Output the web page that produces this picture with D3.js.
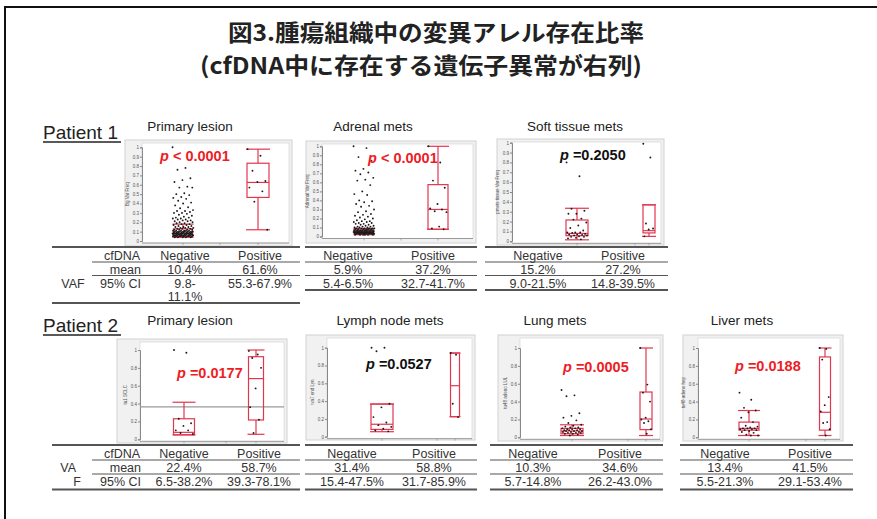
<!DOCTYPE html>
<html>
<head>
<meta charset="utf-8">
<script src="https://cdn.jsdelivr.net/npm/d3@7"></script>
<style>
  body { margin: 0; background: #fff; }
  svg { display: block; }
</style>
</head>
<body>
<svg width="877" height="519"></svg>
<script>
// ---- data ----
var titleLines = ["図3.腫瘍組織中の変異アレル存在比率", "(cfDNA中に存在する遺伝子異常が右列)"];
var patients = ["Patient 1", "Patient 2"];
var panelNames = ["Primary lesion", "Adrenal mets", "Soft tissue mets",
                  "Primary lesion", "Lymph node mets", "Lung mets", "Liver mets"];
var yLabels = ["Bg Var Freq", "Adrenal Var Freq", "pmets tissue Var Freq",
               "tu1 SCLC", "wa7 end Lyn", "tu48 adeno LUL", "tu48 adeno hep"];
var pValues = ["< 0.0001", "< 0.0001", "=0.2050", "=0.0177", "=0.0527", "=0.0005", "=0.0188"];
var significant = [true, true, false, true, false, true, true];
var groups = ["Negative", "Positive"];

// VAF values per panel, [negative, positive]
var p1PrimaryNeg = [1.0, 0.78, 0.76, 0.67, 0.65, 0.63, 0.58, 0.57, 0.57, 0.51, 0.50, 0.49, 0.47, 0.46, 0.45,
  0.43, 0.41, 0.40, 0.38, 0.36, 0.35, 0.33, 0.32, 0.32, 0.31, 0.30, 0.30, 0.29, 0.28, 0.27, 0.26, 0.25, 0.25,
  0.24, 0.24, 0.23, 0.23, 0.22, 0.22, 0.21, 0.21, 0.20, 0.20, 0.19, 0.19, 0.18, 0.18, 0.17, 0.17, 0.16, 0.16,
  0.15, 0.15, 0.15, 0.14, 0.14, 0.14, 0.13, 0.13, 0.13, 0.12, 0.12, 0.12, 0.12, 0.11, 0.11, 0.11, 0.11, 0.11,
  0.11, 0.10, 0.10, 0.10, 0.10, 0.10, 0.10, 0.10, 0.10, 0.09, 0.09, 0.09, 0.09, 0.09, 0.09, 0.09, 0.09,
  0.08, 0.08, 0.08, 0.08, 0.08, 0.08, 0.08, 0.08, 0.08, 0.08, 0.07, 0.07, 0.07, 0.07, 0.07, 0.07, 0.07, 0.07,
  0.07, 0.07, 0.06, 0.06, 0.06, 0.06, 0.06, 0.06, 0.06, 0.06, 0.06, 0.06, 0.05, 0.05, 0.05, 0.05, 0.05, 0.05,
  0.05, 0.05, 0.04, 0.04, 0.04, 0.04, 0.04];
var p1PrimaryPos = [0.98, 0.91, 0.75, 0.64, 0.63, 0.57, 0.53, 0.42, 0.12];
var p1AdrenalNeg = [1.0, 0.98, 0.88, 0.84, 0.75, 0.73, 0.71, 0.69, 0.65, 0.63, 0.62, 0.57, 0.50, 0.47, 0.46,
  0.40, 0.39, 0.38, 0.36, 0.34, 0.33, 0.30, 0.28, 0.27, 0.25, 0.24, 0.23, 0.22, 0.21, 0.20, 0.19, 0.18, 0.17,
  0.17, 0.16, 0.16, 0.15, 0.15, 0.14, 0.14, 0.13, 0.13, 0.12, 0.12, 0.11, 0.11, 0.11, 0.10, 0.10, 0.10,
  0.09, 0.09, 0.09, 0.09, 0.09, 0.09, 0.08, 0.08, 0.08, 0.08, 0.08, 0.08, 0.07, 0.07, 0.07, 0.07, 0.07, 0.07,
  0.07, 0.07, 0.06, 0.06, 0.06, 0.06, 0.06, 0.06, 0.06, 0.06, 0.06, 0.06, 0.05, 0.05, 0.05, 0.05, 0.05, 0.05,
  0.05, 0.05, 0.05, 0.05, 0.05, 0.05, 0.04, 0.04, 0.04, 0.04, 0.04, 0.04, 0.04, 0.04, 0.04, 0.04, 0.04, 0.04,
  0.03, 0.03, 0.03, 0.03, 0.03, 0.03, 0.03, 0.03, 0.03, 0.03, 0.02, 0.02, 0.02, 0.02, 0.02, 0.02];
var p1AdrenalPos = [1.0, 0.82, 0.62, 0.54, 0.36, 0.31, 0.30, 0.28, 0.27, 0.11, 0.09, 0.08];
var p1SoftNeg = [0.80, 0.66, 0.33, 0.31, 0.28, 0.28, 0.23, 0.22, 0.19, 0.16, 0.135, 0.11, 0.09, 0.09, 0.09,
  0.085, 0.075, 0.07, 0.07, 0.065, 0.06, 0.06, 0.05, 0.045, 0.045, 0.035, 0.03, 0.02];
var p1SoftPos = [0.99, 0.85, 0.18, 0.13, 0.12, 0.05];
var p2PrimaryNeg = [1.0, 0.97, 0.23, 0.18, 0.15, 0.10, 0.10, 0.07, 0.06];
var p2PrimaryPos = [0.99, 0.95, 0.91, 0.80, 0.57, 0.36, 0.22, 0.07];
var p2LymphNeg = [1.0, 1.0, 0.96, 0.37, 0.33, 0.22, 0.16, 0.13, 0.11, 0.09, 0.07, 0.06];
var p2LymphPos = [0.94, 0.92, 0.37, 0.22];
var p2LungNeg = [0.53, 0.47, 0.46, 0.27, 0.24, 0.22, 0.19, 0.16, 0.14, 0.13, 0.12, 0.11, 0.11, 0.10, 0.10,
  0.09, 0.09, 0.09, 0.08, 0.08, 0.08, 0.07, 0.07, 0.07, 0.06, 0.06, 0.06, 0.05, 0.05, 0.05, 0.04, 0.04, 0.03, 0.02];
var p2LungPos = [1.0, 0.59, 0.50, 0.40, 0.22, 0.20, 0.18, 0.16, 0.09, 0.04];
var p2LiverNeg = [0.50, 0.42, 0.33, 0.30, 0.28, 0.22, 0.17, 0.13, 0.12, 0.11, 0.10, 0.10, 0.10, 0.09, 0.09,
  0.08, 0.08, 0.07, 0.06, 0.05, 0.03, 0.02, 0.02];
var p2LiverPos = [1.0, 0.99, 0.87, 0.45, 0.36, 0.29, 0.17, 0.16, 0.09, 0.02];

var pointSets = [
  [p1PrimaryNeg, p1PrimaryPos], [p1AdrenalNeg, p1AdrenalPos], [p1SoftNeg, p1SoftPos],
  [p2PrimaryNeg, p2PrimaryPos], [p2LymphNeg, p2LymphPos], [p2LungNeg, p2LungPos], [p2LiverNeg, p2LiverPos]
];

// box stats [whisker low, q1, median, q3, whisker high]
var boxStats = [
  [[0.04, 0.045, 0.08, 0.13, 0.18], [0.12, 0.465, 0.625, 0.83, 0.98]],
  [[0.02, 0.03, 0.045, 0.07, 0.09], [0.08, 0.08, 0.30, 0.575, 1.0]],
  [[0.015, 0.057, 0.08, 0.216, 0.335], [0.05, 0.085, 0.108, 0.37, 0.37]],
  [[0.05, 0.05, 0.078, 0.23, 0.415], [0.056, 0.216, 0.68, 0.925, 1.0]],
  [[0.056, 0.082, 0.14, 0.367, 0.367], [0.225, 0.225, 0.573, 0.94, 0.94]],
  [[0.02, 0.04, 0.07, 0.10, 0.14], [0.02, 0.086, 0.205, 0.507, 1.0]],
  [[0.02, 0.08, 0.10, 0.17, 0.30], [0.02, 0.08, 0.28, 0.90, 1.0]]
];
var refLine = [null, null, null, 0.362, null, null, null];

// table values
var meanVals = [["10.4%", "61.6%"], ["5.9%", "37.2%"], ["15.2%", "27.2%"],
                ["22.4%", "58.7%"], ["31.4%", "58.8%"], ["10.3%", "34.6%"], ["13.4%", "41.5%"]];
var ciVals = [["9.8-|11.1%", "55.3-67.9%"], ["5.4-6.5%", "32.7-41.7%"], ["9.0-21.5%", "14.8-39.5%"],
              ["6.5-38.2%", "39.3-78.1%"], ["15.4-47.5%", "31.7-85.9%"], ["5.7-14.8%", "26.2-43.0%"],
              ["5.5-21.3%", "29.1-53.4%"]];
var ticksP1 = [0, 0.1, 0.2, 0.3, 0.4, 0.5, 0.6, 0.7, 0.8, 0.9, 1];
var ticksP2 = [0, 0.2, 0.4, 0.6, 0.8, 1];

// ---- layout (pixel positions) ----
var layout = [
  { row: 0, frame: [125, 140, 292, 246], axisX: 142, y0: 241, y1: 147.3, negX: 183, posX: 258, midX: 220, bw: [19, 22], tx: 190, px: 160, py: 156, tbl: [52, 300], cols: [185, 260] },
  { row: 0, frame: [306, 141, 476, 243], axisX: 322, y0: 236.5, y1: 146.3, negX: 364, posX: 438, midX: 401, bw: [19, 20], tx: 373, px: 368, py: 158, tbl: [305, 477], cols: [348, 433] },
  { row: 0, frame: [497, 139, 664, 245], axisX: 512, y0: 241.3, y1: 142.7, negX: 577, posX: 649, midX: 635, bw: [22, 12], tx: 575, px: 560, py: 155, tbl: [485, 668], cols: [538, 623] },
  { row: 1, frame: [117, 339, 287, 443], axisX: 140, y0: 439.3, y1: 350, negX: 184, posX: 256, midX: 226, bw: [21, 15], tx: 190, px: 177, py: 373, tbl: [52, 300], cols: [184, 259] },
  { row: 1, frame: [306, 335, 475, 440], axisX: 327, y0: 436.7, y1: 347.7, negX: 382, posX: 455, midX: 437, bw: [22, 9], tx: 390, px: 366, py: 364, tbl: [305, 477], cols: [352, 434] },
  { row: 1, frame: [498, 335, 663, 441], axisX: 520, y0: 437.3, y1: 348, negX: 572, posX: 646, midX: 628, bw: [22, 12], tx: 555, px: 563, py: 367, tbl: [490, 663], cols: [533, 620] },
  { row: 1, frame: [683, 335, 843, 441], axisX: 698, y0: 437.3, y1: 348, negX: 749, posX: 825, midX: 806, bw: [20, 11], tx: 742, px: 735, py: 366, tbl: [680, 853], cols: [725, 810] }
];
var rowGeo = [
  { patY: 139, titleY: 131, top: 247, hdr: 260, hl: 262, mean: 273.5, ml: 275.5, ci: 287.5, bottom: 290 },
  { patY: 332, titleY: 325, top: 445, hdr: 457.5, hl: 460, mean: 471.8, ml: 474, ci: 485.8, bottom: 489.5 }
];

var red = "#e2364f";
var svg = d3.select("svg");

// outer frame
svg.append("rect").attr("x", 5).attr("y", 7).attr("width", 900).attr("height", 540)
   .attr("fill", "none").attr("stroke", "#111").attr("stroke-width", 2);

// title
var tStarts = [228, 200], tLens = [416, 442], tBase = [41, 74];
titleLines.forEach(function(t, i) {
  svg.append("text")
     .attr("x", tStarts[i]).attr("y", tBase[i])
     .attr("textLength", tLens[i]).attr("lengthAdjust", "spacingAndGlyphs")
     .attr("font-family", "'Noto Sans CJK JP', sans-serif")
     .attr("font-weight", "bold").attr("font-size", 22.5).attr("fill", "#222")
     .text(t);
});

// patient labels
patients.forEach(function(p, i) {
  svg.append("text").attr("x", 43).attr("y", rowGeo[i].patY)
     .attr("font-family", "'Liberation Sans', Arial, sans-serif")
     .attr("font-size", 19).attr("fill", "#222").text(p);
  svg.append("line").attr("x1", 43).attr("x2", 121)
     .attr("y1", rowGeo[i].patY + 3).attr("y2", rowGeo[i].patY + 3)
     .attr("stroke", "#222").attr("stroke-width", 1.3);
});

function jit(j) { return ((j * 0.6180339887) % 1) - 0.5; }

layout.forEach(function(L, i) {
  var g = svg.append("g");
  var R = rowGeo[L.row];
  var font = "'Liberation Sans', Arial, sans-serif";

  // panel title
  g.append("text").attr("x", L.tx).attr("y", R.titleY).attr("text-anchor", "middle")
   .attr("font-family", font).attr("font-size", 13.5).attr("fill", "#222").text(panelNames[i]);

  var axisY = L.y0 + 2;
  g.append("rect")
   .attr("x", L.frame[0]).attr("y", L.frame[1])
   .attr("width", L.frame[2] - L.frame[0]).attr("height", L.frame[3] - L.frame[1])
   .attr("fill", "#f1f1f1").attr("stroke", "#d2d2d2").attr("stroke-width", 1);
  g.append("rect")
   .attr("x", L.axisX).attr("y", L.frame[1] + 3)
   .attr("width", L.frame[2] - 3 - L.axisX).attr("height", axisY - L.frame[1] - 3)
   .attr("fill", "#fff").attr("stroke", "#cfcfcf").attr("stroke-width", 0.6);

  var y = d3.scaleLinear().domain([0, 1]).range([L.y0, L.y1]);
  var x = d3.scalePoint().domain(groups).range([L.negX, L.posX]);

  var ax = g.append("g").attr("transform", "translate(" + L.axisX + ",0)")
    .call(d3.axisLeft(y).tickValues(L.row === 0 ? ticksP1 : ticksP2).tickSize(2).tickFormat(d3.format("~g")));
  ax.select(".domain").attr("stroke", "#888");
  ax.selectAll(".tick line").attr("stroke", "#888");
  ax.selectAll(".tick text").attr("font-size", 4.5).attr("fill", "#555").attr("x", -3);

  // bottom axis
  g.append("line").attr("x1", L.axisX).attr("x2", L.frame[2] - 3)
   .attr("y1", axisY).attr("y2", axisY).attr("stroke", "#888").attr("stroke-width", 0.8);
  [L.negX, L.midX, L.posX].forEach(function(tx) {
    g.append("line").attr("x1", tx).attr("x2", tx).attr("y1", axisY).attr("y2", axisY + 2)
     .attr("stroke", "#888").attr("stroke-width", 0.6);
  });

  // y label
  g.append("text")
   .attr("transform", "translate(" + (L.axisX - 13) + "," + ((L.y0 + L.y1) / 2) + ") rotate(-90)")
   .attr("text-anchor", "middle").attr("font-family", font).attr("font-size", 4.5).attr("fill", "#555")
   .text(yLabels[i]);

  if (refLine[i] !== null) {
    g.append("line").attr("x1", L.axisX).attr("x2", L.frame[2] - 3)
     .attr("y1", y(refLine[i])).attr("y2", y(refLine[i]))
     .attr("stroke", "#999").attr("stroke-width", 1.2);
  }

  // boxes
  groups.forEach(function(gr, k) {
    var s = boxStats[i][k], cx = x(gr), w = L.bw[k], cw = w + 2;
    var bg = g.append("g").attr("stroke", red).attr("stroke-width", 1.2).attr("fill", "none");
    bg.append("rect").attr("x", cx - w / 2).attr("y", y(s[3]))
      .attr("width", w).attr("height", Math.max(0.5, y(s[1]) - y(s[3])));
    bg.append("line").attr("x1", cx - w / 2).attr("x2", cx + w / 2).attr("y1", y(s[2])).attr("y2", y(s[2]));
    bg.append("line").attr("x1", cx).attr("x2", cx).attr("y1", y(s[3])).attr("y2", y(s[4]));
    bg.append("line").attr("x1", cx).attr("x2", cx).attr("y1", y(s[1])).attr("y2", y(s[0]));
    bg.append("line").attr("x1", cx - cw / 2).attr("x2", cx + cw / 2).attr("y1", y(s[4])).attr("y2", y(s[4]));
    bg.append("line").attr("x1", cx - cw / 2).attr("x2", cx + cw / 2).attr("y1", y(s[0])).attr("y2", y(s[0]));
  });

  // points
  groups.forEach(function(gr, k) {
    var w = L.bw[k];
    var n = pointSets[i][k].length;
    var spread = n > 60 ? w * 1.1 : w * 0.95;
    g.selectAll(null).data(pointSets[i][k]).enter().append("circle")
     .attr("cx", function(d, j) { return x(gr) + jit(j) * spread; })
     .attr("cy", function(d) { return y(d); })
     .attr("r", 0.95).attr("fill", "#1a1a1a");
  });

  // p value
  var pt = g.append("text").attr("x", L.px).attr("y", L.py + 5)
    .attr("font-family", font).attr("font-weight", "bold").attr("font-size", 14.5)
    .attr("fill", significant[i] ? "#ee1c25" : "#111");
  pt.append("tspan").attr("font-style", "italic").text("p");
  pt.append("tspan").text(" " + pValues[i]);

  // table
  var tg = g.append("g").attr("font-family", font).attr("font-size", 12.5).attr("fill", "#333");
  var x0 = L.tbl[0], x1 = L.tbl[1];
  var first = (i === 0 || i === 3);
  var inner = first ? 92 : x0;
  var bottom = (i === 0) ? 303 : R.bottom;
  tg.append("line").attr("x1", x0).attr("x2", x1).attr("y1", R.top).attr("y2", R.top)
    .attr("stroke", "#555").attr("stroke-width", 1.8);
  tg.append("line").attr("x1", inner).attr("x2", x1).attr("y1", R.hl).attr("y2", R.hl)
    .attr("stroke", "#555").attr("stroke-width", 1.2);
  tg.append("line").attr("x1", inner).attr("x2", x1).attr("y1", R.ml).attr("y2", R.ml)
    .attr("stroke", "#555").attr("stroke-width", 1.2);
  tg.append("line").attr("x1", x0).attr("x2", x1).attr("y1", bottom).attr("y2", bottom)
    .attr("stroke", "#555").attr("stroke-width", 1.8);

  groups.forEach(function(gr, k) {
    var cx = L.cols[k];
    tg.append("text").attr("x", cx).attr("y", R.hdr).attr("text-anchor", "middle").text(gr);
    tg.append("text").attr("x", cx).attr("y", R.mean).attr("text-anchor", "middle").text(meanVals[i][k]);
    ciVals[i][k].split("|").forEach(function(part, m) {
      tg.append("text").attr("x", cx).attr("y", R.ci + m * 13.5).attr("text-anchor", "middle").text(part);
    });
  });

  if (first) {
    tg.append("text").attr("x", 122).attr("y", R.hdr).attr("text-anchor", "middle").text("cfDNA");
    tg.append("text").attr("x", 141).attr("y", R.mean).attr("text-anchor", "end").text("mean");
    tg.append("text").attr("x", 141).attr("y", R.ci).attr("text-anchor", "end").text("95% CI");
    if (L.row === 0) {
      tg.append("text").attr("x", 73).attr("y", R.ci).attr("text-anchor", "middle").text("VAF");
    } else {
      tg.append("text").attr("x", 76).attr("y", R.mean).attr("text-anchor", "end").text("VA");
      tg.append("text").attr("x", 81).attr("y", R.ci).attr("text-anchor", "end").text("F");
    }
  }
});
</script>
</body>
</html>
